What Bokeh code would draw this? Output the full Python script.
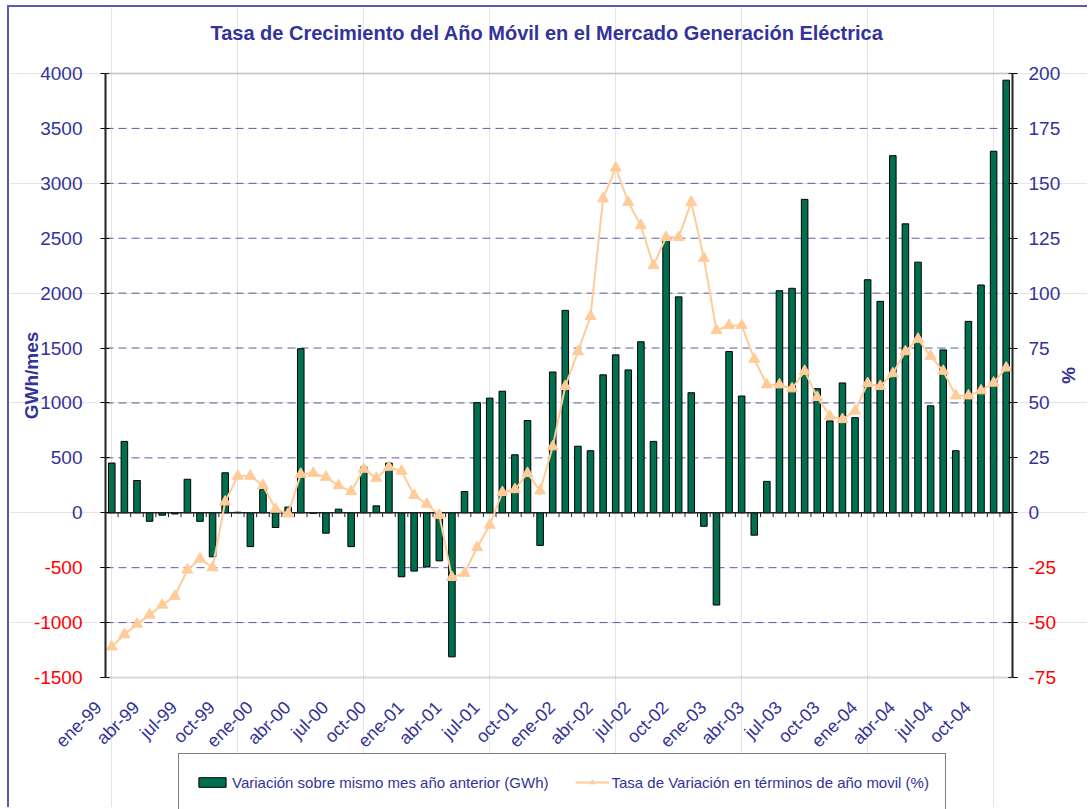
import numpy as np
from bokeh.plotting import figure
from bokeh.models import (Range1d, LinearAxis, FixedTicker, Legend, LegendItem,
                          BoxAnnotation, Label)
from bokeh.embed import file_html
from bokeh.resources import INLINE

# ---------------- data ----------------
tick_labels = ["ene-99", "abr-99", "jul-99", "oct-99",
               "ene-00", "abr-00", "jul-00", "oct-00",
               "ene-01", "abr-01", "jul-01", "oct-01",
               "ene-02", "abr-02", "jul-02", "oct-02",
               "ene-03", "abr-03", "jul-03", "oct-03",
               "ene-04", "abr-04", "jul-04", "oct-04"]

variacion_gwh = [453, 650, 294, -78, -22, -11, 305, -78, -401, 364, 5, -308,
                 212, -134, 52, 1494, -5, -186, 33, -308, 416, 63, 453, -583,
                 -531, -494, -438, -1312, 193, 1003, 1044, 1107, 528, 840, -297, 1282,
                 1843, 606, 565, 1256, 1438, 1301, 1557, 650, 2510, 1966, 1093, -123,
                 -840, 1468, 1063, -204, 286, 2022, 2044, 2854, 1130, 836, 1182, 866,
                 2122, 1925, 3252, 2631, 2282, 974, 1483, 565, 1743, 2074, 3292, 3939]

tasa_pct = [-61, -55.4, -50.7, -46.5, -42, -38, -26, -21, -25, 5, 16.7, 16.7,
            12.4, 1.7, -0.5, 17.6, 18, 16.2, 12.4, 9.7, 19.9, 15.8, 20.8, 19,
            8, 4, -1.1, -29.4, -27.5, -15.8, -5.6, 9.3, 10.6, 18, 10, 30.1,
            57.6, 73.4, 89.4, 143, 157, 141.4, 130.8, 112.6, 125.4, 125.4, 141.4, 115.9,
            83, 85.3, 85.3, 70, 58.3, 58.3, 56.5, 64.5, 52.6, 44, 42.5, 46.4,
            58.9, 57.6, 63.4, 73.4, 79.1, 71.3, 64.5, 53.3, 53.3, 55.6, 59.1, 66]

left_ticks = [-1500, -1000, -500, 0, 500, 1000, 1500, 2000, 2500, 3000, 3500, 4000]
right_ticks = [-75, -50, -25, 0, 25, 50, 75, 100, 125, 150, 175, 200]

TITLE = "Tasa de Crecimiento del Año Móvil en el Mercado Generación Eléctrica"
LEG_BARS = "Variación sobre mismo mes año anterior (GWh)"
LEG_LINE = "Tasa de Variación en términos de año movil (%)"

BLUE = "#333399"
RED = "#FF0000"
FONT = "Liberation Sans"

# ---------------- layout geometry (page pixels) ----------------
W, H = 1080, 802            # canvas size
CX, CY = 9, 7               # canvas origin on the page (margin + border)
PA_L, PA_R, PA_T, PA_B = 105, 1012, 73, 677   # plot-area box on the page

n = len(variacion_gwh)
idx = np.arange(n)
x_lo, x_hi = -0.5, n - 0.5
kx = (PA_R - PA_L) / (x_hi - x_lo)
x_start = x_lo - (PA_L - CX) / kx
x_end = x_hi + (CX + W - PA_R) / kx


def y_extent(lo, hi):
    k = (PA_B - PA_T) / (hi - lo)
    return lo - (CY + H - PA_B) / k, hi + (PA_T - CY) / k


yl0, yl1 = y_extent(left_ticks[0], left_ticks[-1])
yr0, yr1 = y_extent(right_ticks[0], right_ticks[-1])

p = figure(width=W, height=H, output_backend="svg", toolbar_location=None,
           x_range=Range1d(x_start, x_end), y_range=Range1d(yl0, yl1),
           x_axis_location=None, y_axis_location=None,
           min_border=0, min_border_left=0, min_border_right=0,
           min_border_top=0, min_border_bottom=0)
p.title.visible = False
p.outline_line_color = None
p.styles = {"border-left": "2px solid #5a5ab4", "border-top": "2px solid #5a5ab4",
            "margin-left": "7px", "margin-top": "5px"}
p.extra_y_ranges = {"pct": Range1d(yr0, yr1)}

# title
p.add_layout(Label(x=(PA_L + PA_R) / 2 - CX - 12, y=CY + H - 32, x_units="screen", y_units="screen",
                   text=TITLE, text_align="center", text_baseline="middle",
                   text_font=FONT, text_font_size="20px", text_font_style="bold",
                   text_color=BLUE))

# dashed horizontal grid inside the plot area
grid_vals = [t for t in left_ticks if t not in (0, left_ticks[0], left_ticks[-1])]
p.segment(x0=[x_lo] * len(grid_vals), x1=[x_hi] * len(grid_vals), y0=grid_vals, y1=grid_vals,
          line_color=BLUE, line_alpha=0.8, line_dash="8 5", line_width=1)

# plot-area border
p.add_layout(BoxAnnotation(left=x_lo, right=x_hi, bottom=left_ticks[0], top=left_ticks[-1],
                           fill_alpha=0, line_color="#808080", line_width=2))


def style_y(ax, standoff):
    ax.major_label_text_font = FONT
    ax.major_label_text_font_size = "19px"
    ax.major_label_standoff = standoff
    ax.major_tick_in = 4
    ax.major_tick_out = 5
    ax.major_tick_line_color = "black"
    ax.minor_tick_line_color = None
    ax.axis_line_color = "black"
    ax.axis_line_width = 1.5


def split_axes(ticks, loc, side, standoff, range_name="default"):
    """Two coincident axes: blue labels for ticks >= 0, red labels for negatives."""
    pos = LinearAxis(y_range_name=range_name, ticker=FixedTicker(ticks=ticks),
                     fixed_location=loc, bounds=(ticks[0], ticks[-1]))
    pos.major_label_overrides = {t: (str(t) if t >= 0 else " ") for t in ticks}
    style_y(pos, standoff)
    pos.major_label_text_color = BLUE
    neg_ticks = [t for t in ticks if t < 0]
    neg = LinearAxis(y_range_name=range_name, ticker=FixedTicker(ticks=neg_ticks),
                     fixed_location=loc, bounds=(ticks[0], ticks[-1]))
    neg.major_label_overrides = {t: str(t) for t in neg_ticks}
    style_y(neg, standoff)
    neg.major_label_text_color = RED
    p.add_layout(pos, side)
    p.add_layout(neg, side)
    return pos


ya = split_axes(left_ticks, x_lo, "left", 18)
ya.axis_label = "GWh/mes"
ra = split_axes(right_ticks, x_hi, "right", 11, "pct")
ra.axis_label = "%"
for ax in (ya, ra):
    ax.axis_label_text_font = FONT
    ax.axis_label_text_font_size = "19px"
    ax.axis_label_text_font_style = "bold"
    ax.axis_label_text_color = BLUE
    ax.axis_label_standoff = -5

# bottom category axis (labels every 3 months, text ending at the category's left edge)
xticks = [float(i) - 1.05 for i in range(0, n, 3)]
xa = LinearAxis(ticker=FixedTicker(ticks=xticks), fixed_location=left_ticks[0],
                bounds=(x_lo - 1, x_hi))
xa.major_label_overrides = {t: lab for t, lab in zip(xticks, tick_labels)}
xa.major_label_orientation = np.pi / 4
xa.axis_line_color = None
xa.major_tick_line_color = None
xa.major_tick_out = 0
xa.major_tick_in = 0
xa.minor_tick_line_color = None
xa.major_label_text_color = BLUE
xa.major_label_text_font = FONT
xa.major_label_text_font_size = "18px"
xa.major_label_standoff = 27
p.add_layout(xa, "below")

# bars
bars = p.vbar(x=idx, top=variacion_gwh, width=0.52, fill_color="#006F50",
              line_color="black", line_width=1)

# zero line with category ticks
p.segment(x0=[x_lo], x1=[x_hi], y0=[0], y1=[0], line_color="#222222", line_width=1.5)
p.segment(x0=idx + 0.5, x1=idx + 0.5, y0=0, y1=-40, line_color="#222222", line_width=1)

# line
ln = p.line(x=idx, y=tasa_pct, y_range_name="pct", line_color="#FFCC99", line_width=2)
mk = p.scatter(x=idx, y=tasa_pct, y_range_name="pct", marker="triangle", size=11,
               fill_color="#FFCC99", line_color="#FFCC99")

legend = Legend(items=[
    LegendItem(label=LEG_BARS, renderers=[bars]),
    LegendItem(label=LEG_LINE, renderers=[ln, mk]),
], orientation="horizontal", location=(178 - CX, -2))
legend.label_text_font = FONT
legend.label_text_font_size = "15px"
legend.label_text_color = BLUE
legend.border_line_color = "black"
legend.border_line_width = 1
legend.background_fill_color = "white"
legend.background_fill_alpha = 1
legend.glyph_width = 34
legend.glyph_height = 12
legend.label_height = 24
legend.label_standoff = 3
legend.spacing = 26
legend.padding = 16
legend.margin = 0
p.add_layout(legend, "center")

open("out.html", "w").write(file_html(p, INLINE))
